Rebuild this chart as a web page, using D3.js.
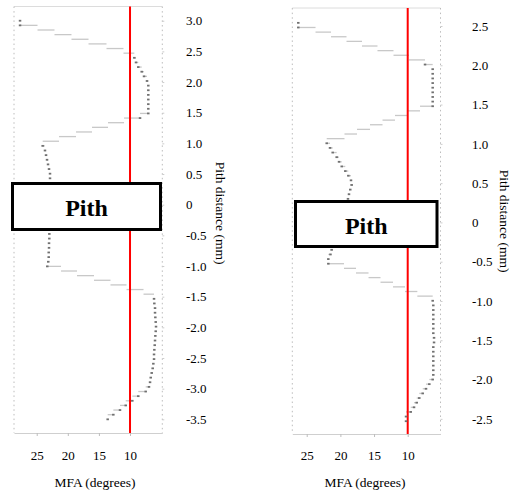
<!DOCTYPE html>
<html><head><meta charset="utf-8">
<script src="https://cdn.jsdelivr.net/npm/d3@7"></script>
<style>
body{margin:0;background:#fff}
svg{display:block}
text{font-family:"Liberation Serif","Times New Roman",Times,"DejaVu Serif",serif;fill:#000}
</style>
</head><body>
<svg id="chart" width="515" height="495"></svg>
<script>
// ---------- DATA ----------
// MFA (degrees) per sample row, from the top of each profile to the bottom.
// null = rows hidden behind the "Pith" box.
const leftMFA = [
  27.68, 27.68, 24.87, 22.14, 19.41, 16.67, 13.78, 11.05, 9.31, 9.04,
  8.67, 8.12, 7.75, 7.27, 7.06, 7.06, 7.06, 7.06, 7.06, 7.06,
  7.06, 8.39, 10.96, 13.54, 16.11, 18.68, 21.41, 24.04, 23.67, 23.50,
  23.34, 23.18, 23.02, 22.86, 22.86,
  null, null, null, null, null, null, null, null, null, null, null,
  22.97, 22.97, 23.02, 23.02, 23.07, 23.07, 23.14, 23.30, 21.09,
  18.52, 15.79, 13.14, 10.56, 7.83, 6.14, 6.09, 5.98, 5.98, 5.93,
  5.87, 5.82, 5.87, 5.93, 5.98, 6.03, 6.09, 6.14, 6.14, 6.25,
  6.35, 6.51, 6.67, 6.78, 6.95, 7.48, 8.67, 9.63, 10.69, 11.61,
  12.68, 13.59
];
const rightMFA = [
  26.25, 26.25, 23.69, 21.39, 19.09, 16.79, 14.49, 12.11, 9.81, 7.43,
  6.29, 6.29, 6.29, 6.29, 6.29, 6.29, 6.29, 6.29, 6.29, 8.17,
  10.00, 11.89, 13.74, 15.60, 17.53, 19.39, 22.03, 21.54, 21.14, 20.55,
  20.20, 19.80, 19.27, 18.82, 18.42, 18.32, 18.53, 18.72, 18.87,
  null, null, null, null, null, null, null, null, null, null,
  21.29, 21.47, 21.79, 21.79, 19.46, 17.68, 15.82, 14.04, 12.18, 10.40,
  8.57, 6.29, 6.20, 6.20, 6.20, 6.20, 6.20, 6.20, 6.20, 6.09,
  6.09, 6.20, 6.20, 6.20, 6.20, 6.20, 6.20, 6.20, 6.29, 6.79,
  7.28, 7.77, 8.28, 8.66, 9.06, 9.55, 10.25, 10.25
];
// pith distance (mm) of the first and last sample row of each profile
const leftDistanceSpan = [3.0, -3.5];
const rightDistanceSpan = [2.54, -2.53];

const xTickValues = [25, 20, 15, 10];
const leftYTickValues = [3.0, 2.5, 2.0, 1.5, 1.0, 0.5, 0, -0.5, -1.0, -1.5, -2.0, -2.5, -3.0, -3.5];
const rightYTickValues = [2.5, 2.0, 1.5, 1.0, 0.5, 0, -0.5, -1.0, -1.5, -2.0, -2.5];
const referenceMFA = 10;
const pithLabel = "Pith";
const xTitle = "MFA (degrees)";
const yTitle = "Pith distance (mm)";

// ---------- LAYOUT ----------
const FONT = '"Liberation Serif","Times New Roman",Times,"DejaVu Serif",serif';
const panels = [
  {
    values: leftMFA, span: leftDistanceSpan, yTicks: leftYTickValues,
    frame: {x0: 14, x1: 162.3, y0: 6.5, y1: 433},
    xDomain: [28.65, 4.81], yDomain: [3.232, -3.723],
    box: {x0: 12.5, x1: 160.5, y0: 183.5, y1: 229.5},
    yLabelPad: 21.7, yTitleX: 220, yTitleY: 213, xTitleX: 95
  },
  {
    values: rightMFA, span: rightDistanceSpan, yTicks: rightYTickValues,
    frame: {x0: 292.3, x1: 440.5, y0: 8, y1: 434},
    xDomain: [27.14, 5.13], yDomain: [2.729, -2.693],
    box: {x0: 295.5, x1: 437, y0: 201.5, y1: 246.5},
    yLabelPad: 29.5, yTitleX: 504, yTitleY: 221, xTitleX: 365
  }
];

const svg = d3.select("#chart");

panels.forEach(p => {
  const f = p.frame;
  const x = d3.scaleLinear().domain(p.xDomain).range([f.x0, f.x1]);
  const y = d3.scaleLinear().domain(p.yDomain).range([f.y0, f.y1]);
  const n = p.values.length;
  const dist = d3.scaleLinear().domain([0, n - 1]).range(p.span);
  const rows = p.values.map((v, i) => ({i, v, d: dist(i)}));

  const g = svg.append("g");

  // frame: top line + dotted side borders
  g.append("line").attr("x1", f.x0).attr("x2", f.x1).attr("y1", f.y0).attr("y2", f.y0)
    .attr("stroke", "#dcdcdc").attr("stroke-width", 1);
  [f.x0, f.x1].forEach(xx => {
    g.append("line").attr("x1", xx).attr("x2", xx).attr("y1", f.y0).attr("y2", f.y1)
      .attr("stroke", "#bcbcbc").attr("stroke-width", 1)
      .attr("stroke-dasharray", "1.5,3.13");
  });

  // bottom axis
  const xa = g.append("g").attr("transform", `translate(0,${f.y1})`)
    .call(d3.axisBottom(x).tickValues(xTickValues).tickSize(3).tickSizeOuter(0)
      .tickPadding(460 - f.y1 - 9.2 - 3).tickFormat(d3.format("d")));
  xa.attr("font-family", FONT);
  xa.select(".domain").attr("stroke", "#cfcfcf");
  xa.selectAll(".tick line").attr("stroke", "#bdbdbd");
  xa.selectAll("text").attr("font-size", 13).style("font-family", FONT).attr("fill", "#000");

  // right y axis labels
  const ya = g.append("g").attr("transform", `translate(${f.x1},0)`)
    .call(d3.axisRight(y).tickValues(p.yTicks).tickSize(2).tickPadding(p.yLabelPad)
      .tickFormat(d => d === 0 ? "0" : d.toFixed(1)));
  ya.attr("font-family", FONT);
  ya.select(".domain").remove();
  ya.selectAll(".tick line").attr("stroke", "#cccccc");
  ya.selectAll("text").attr("font-size", 13).style("font-family", FONT).attr("fill", "#000");

  // step segments between successive samples
  const segs = rows.filter(r => r.i < n - 1 && r.v !== null && p.values[r.i + 1] !== null);
  g.append("g").selectAll("line").data(segs).join("line")
    .attr("x1", r => x(r.v)).attr("x2", r => x(p.values[r.i + 1]))
    .attr("y1", r => y(r.d)).attr("y2", r => y(r.d))
    .attr("stroke", "#c8c8c8").attr("stroke-width", 1.3);

  // reference line
  g.append("line").attr("x1", x(referenceMFA)).attr("x2", x(referenceMFA))
    .attr("y1", f.y0).attr("y2", f.y1).attr("stroke", "#ff0000").attr("stroke-width", 2);

  // sample markers (visible where neighbouring samples are close)
  const near = r => {
    const a = r.i > 0 ? p.values[r.i - 1] : null;
    const b = r.i < n - 1 ? p.values[r.i + 1] : null;
    const da = a === null ? 0 : Math.abs(a - r.v);
    const db = b === null ? 0 : Math.abs(b - r.v);
    return Math.min(da, db) < 1.5;
  };
  g.append("g").selectAll("rect").data(rows.filter(r => r.v !== null && near(r))).join("rect")
    .attr("x", r => x(r.v) - 1.25).attr("y", r => y(r.d) - 0.9)
    .attr("width", 2.5).attr("height", 1.8).attr("fill", "#707070");

  // pith box
  const b = p.box;
  g.append("rect").attr("x", b.x0).attr("y", b.y0).attr("width", b.x1 - b.x0).attr("height", b.y1 - b.y0)
    .attr("fill", "#fff").attr("stroke", "#000").attr("stroke-width", 3);
  g.append("text").attr("x", (b.x0 + b.x1) / 2).attr("y", (b.y0 + b.y1) / 2 + 1.5)
    .attr("text-anchor", "middle").attr("dominant-baseline", "central")
    .attr("font-size", 24).attr("font-weight", "bold").style("font-family", FONT).text(pithLabel);

  // titles
  g.append("text").attr("x", p.xTitleX).attr("y", 487).attr("text-anchor", "middle")
    .attr("font-size", 13.5).style("font-family", FONT).text(xTitle);
  g.append("text").attr("transform", `translate(${p.yTitleX},${p.yTitleY}) rotate(90)`)
    .attr("text-anchor", "middle").attr("dominant-baseline", "central")
    .attr("font-size", 13.5).style("font-family", FONT).text(yTitle);
});
</script>
</body></html>
